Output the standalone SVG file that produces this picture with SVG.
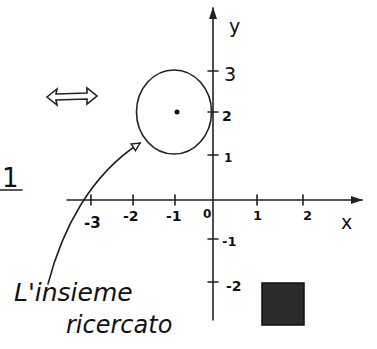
<svg xmlns="http://www.w3.org/2000/svg" width="377" height="349" viewBox="0 0 377 349">
<defs>
<style>
.ax{stroke:#222;stroke-width:1.6;fill:none;stroke-linecap:round}
.t{font-family:"DejaVu Sans","Liberation Sans",sans-serif;fill:#111;font-weight:bold}
.n{font-family:"DejaVu Sans","Liberation Sans",sans-serif;fill:#111;font-weight:normal}
.h{font-family:"DejaVu Sans","Liberation Sans",sans-serif;fill:#111;font-style:italic}
</style>
<marker id="ah" markerWidth="12" markerHeight="10" refX="11" refY="5" orient="auto" markerUnits="userSpaceOnUse">
<path d="M0,1 L12,5 L0,9 Z" fill="#222"/>
</marker>
<marker id="oh" markerWidth="10" markerHeight="10" refX="9" refY="5" orient="auto" markerUnits="userSpaceOnUse">
<path d="M1,1 L9,5 L1,9 Z" fill="#fff" stroke="#222" stroke-width="1.4"/>
</marker>
</defs>
<rect width="377" height="349" fill="#fff"/>
<g id="axes">
<line class="ax" x1="67" y1="200" x2="362" y2="200" marker-end="url(#ah)"/>
<line class="ax" x1="213" y1="320" x2="213" y2="8" marker-end="url(#ah)"/>
<path class="ax" d="M91,195v10M133,195v10M175,195v10M257,195v10M303,195v10M208,71h10M208,112h10M208,155h10M208,239h10M208,282h10"/>
</g>
<g id="labels">
<text class="t" x="84" y="228" font-size="15">-3</text>
<text class="t" x="123" y="221" font-size="14">-2</text>
<text class="t" x="166" y="221" font-size="14">-1</text>
<text class="t" x="203" y="218" font-size="12">0</text>
<text class="t" x="253" y="220" font-size="13">1</text>
<text class="t" x="303" y="220" font-size="13">2</text>
<text class="n" x="341" y="229" font-size="19">x</text>
<text class="n" x="229" y="33" font-size="19">y</text>
<text class="n" x="224" y="81" font-size="19">3</text>
<text class="t" x="222" y="121" font-size="14">2</text>
<text class="t" x="224" y="162" font-size="12">1</text>
<text class="t" x="222" y="246" font-size="13">-1</text>
<text class="t" x="226" y="291" font-size="14">-2</text>
<text class="n" x="2" y="187" font-size="26">1</text>
<line class="ax" x1="0" y1="190" x2="22" y2="190"/>
</g>
<g id="circle">
<ellipse class="ax" cx="174" cy="112" rx="37.5" ry="42"/>
<circle cx="177" cy="112" r="2.5" fill="#111"/>
</g>
<g id="square">
<rect x="262" y="283" width="42" height="42" fill="#2b2b2b" stroke="#111" stroke-width="1.5"/>
</g>
<g id="doublearrow">
<path class="ax" d="M47,97 L57,89 L56,94 L87,93 L87,88 L97,96 L87,104 L87,99 L56,100 L57,105 Z" stroke-width="1.5"/>
</g>
<g id="connectors">
<path class="ax" d="M48,284 C62,230 90,175 140,143" stroke-width="1.2" marker-end="url(#oh)"/>
</g>
<g id="note">
<text class="h" x="14" y="301" font-size="25">L'insieme</text>
<text class="h" x="66" y="333" font-size="24">ricercato</text>
</g>
</svg>
